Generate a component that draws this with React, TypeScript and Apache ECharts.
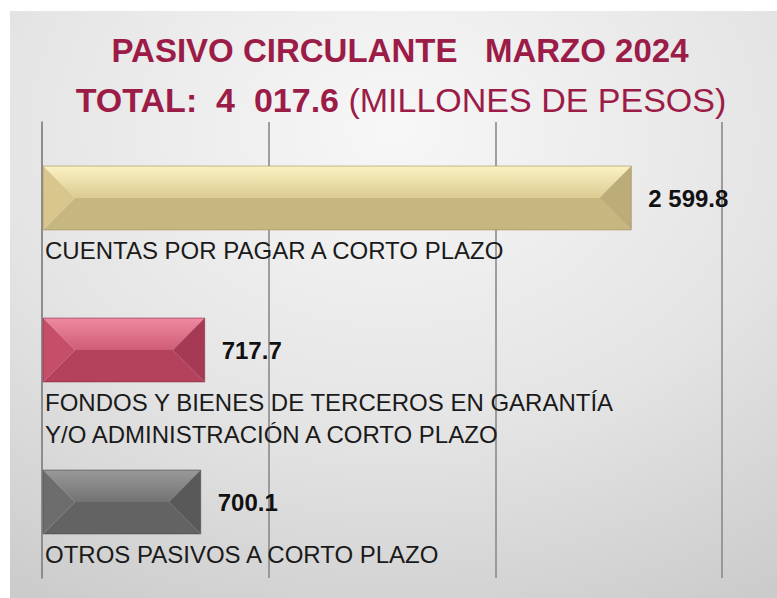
import React, { useEffect, useRef } from "react";
import * as echarts from "echarts";

const titleLine1 = "PASIVO CIRCULANTE   MARZO 2024";
const titleTotalBold = "TOTAL:  4  017.6 ";
const titleTotalUnit = "(MILLONES DE PESOS)";

const categories = [
  "CUENTAS POR PAGAR A CORTO PLAZO",
  "FONDOS Y BIENES DE TERCEROS EN GARANTÍA\nY/O ADMINISTRACIÓN A CORTO PLAZO",
  "OTROS PASIVOS A CORTO PLAZO",
];
const values = [2599.8, 717.7, 700.1];
const axisMax = 3000;
const axisInterval = 1000;

const palettes = [
  { top0: "#fbf2c2", top1: "#dccb92", bottom: "#c6b680", left: "#d9c68c", right: "#bcac78", edge: "#9c8d5e" },
  { top0: "#ee8aa0", top1: "#cf5c76", bottom: "#b4425d", left: "#c64e68", right: "#a63a55", edge: "#8a2c44" },
  { top0: "#999999", top1: "#737373", bottom: "#636363", left: "#6d6d6d", right: "#595959", edge: "#4a4a4a" },
];

const fmt = (v: number) => {
  const [i, f] = v.toFixed(1).split(".");
  return i.replace(/\B(?=(\d{3})+(?!\d))/g, " ") + "." + f;
};

export default function App() {
  const ref = useRef<HTMLDivElement>(null);
  useEffect(() => {
    if (!ref.current) return;
    const chart = echarts.init(ref.current, null, { renderer: "svg" });
    const font = "'Liberation Sans', Arial, sans-serif";
    chart.setOption({
      animation: false,
      backgroundColor: {
        type: "radial",
        x: 0.5,
        y: 0.2,
        r: 0.95,
        colorStops: [
          { offset: 0, color: "#f7f7f7" },
          { offset: 0.55, color: "#e4e4e4" },
          { offset: 1, color: "#cacaca" },
        ],
      },
      graphic: [
        {
          type: "text",
          x: 390,
          y: 39,
          style: {
            text: titleLine1,
            fill: "#9c1c48",
            font: `bold 33px ${font}`,
            align: "center",
            verticalAlign: "middle",
          },
        },
        {
          type: "text",
          x: 391,
          y: 89,
          style: {
            text: `{b|${titleTotalBold}}{r|${titleTotalUnit}}`,
            align: "center",
            verticalAlign: "middle",
            rich: {
              b: { fill: "#9c1c48", fontFamily: font, fontWeight: "bold", fontSize: 34 },
              r: { fill: "#9c1c48", fontFamily: font, fontWeight: "normal", fontSize: 34 },
            },
          },
        },
      ],
      grid: { left: 32, right: 55, top: 111, bottom: 20, containLabel: false },
      xAxis: {
        type: "value",
        min: 0,
        max: axisMax,
        interval: axisInterval,
        axisLabel: { show: false },
        axisLine: { show: false },
        axisTick: { show: false },
        splitLine: { show: true, lineStyle: { color: "#8a8a8a", width: 1.6 } },
      },
      yAxis: {
        type: "category",
        data: categories,
        inverse: true,
        axisLine: { show: true, lineStyle: { color: "#8a8a8a", width: 1.6 } },
        axisTick: { show: false },
        axisLabel: {
          show: true,
          inside: true,
          interval: 0,
          margin: 3,
          align: "left",
          verticalAlign: "top",
          padding: [36, 0, 0, 0],
          color: "#1a1a1a",
          fontFamily: font,
          fontSize: 24,
          lineHeight: 32,
        },
      },
      series: [
        {
          type: "custom",
          encode: { x: 1, y: 0 },
          data: values.map((v, i) => [i, v]),
          renderItem: (params: any, api: any) => {
            const idx = api.value(0);
            const val = api.value(1);
            const start = api.coord([0, idx]);
            const end = api.coord([val, idx]);
            const band = api.size([0, 1])[1];
            const h = band * 0.42;
            const x0 = start[0] + 1;
            const x1 = end[0];
            const ym = start[1];
            const y0 = ym - h / 2;
            const y1 = ym + h / 2;
            const d = h / 2;
            const p = palettes[idx % palettes.length];
            return {
              type: "group",
              children: [
                {
                  type: "polygon",
                  shape: { points: [[x0, y0], [x1, y0], [x1 - d, ym], [x0 + d, ym]] },
                  style: {
                    fill: {
                      type: "linear", x: 0, y: 0, x2: 0, y2: 1,
                      colorStops: [
                        { offset: 0, color: p.top0 },
                        { offset: 1, color: p.top1 },
                      ],
                    },
                  },
                },
                {
                  type: "polygon",
                  shape: { points: [[x0 + d, ym], [x1 - d, ym], [x1, y1], [x0, y1]] },
                  style: { fill: p.bottom },
                },
                {
                  type: "polygon",
                  shape: { points: [[x0, y0], [x0 + d, ym], [x0, y1]] },
                  style: { fill: p.left },
                },
                {
                  type: "polygon",
                  shape: { points: [[x1, y0], [x1, y1], [x1 - d, ym]] },
                  style: { fill: p.right },
                },
                {
                  type: "rect",
                  shape: { x: x0, y: y0, width: x1 - x0, height: h },
                  style: { fill: "none", stroke: p.edge, lineWidth: 1, opacity: 0.6 },
                },
                {
                  type: "text",
                  x: x1 + 17,
                  y: ym,
                  style: {
                    text: fmt(val),
                    fill: "#111111",
                    font: `bold 24px ${font}`,
                    align: "left",
                    verticalAlign: "middle",
                  },
                },
              ],
            };
          },
        },
      ],
    });
    return () => chart.dispose();
  }, []);
  return (
    <div
      ref={ref}
      style={{ position: "absolute", left: 10, top: 11, width: 767, height: 587 }}
    />
  );
}
